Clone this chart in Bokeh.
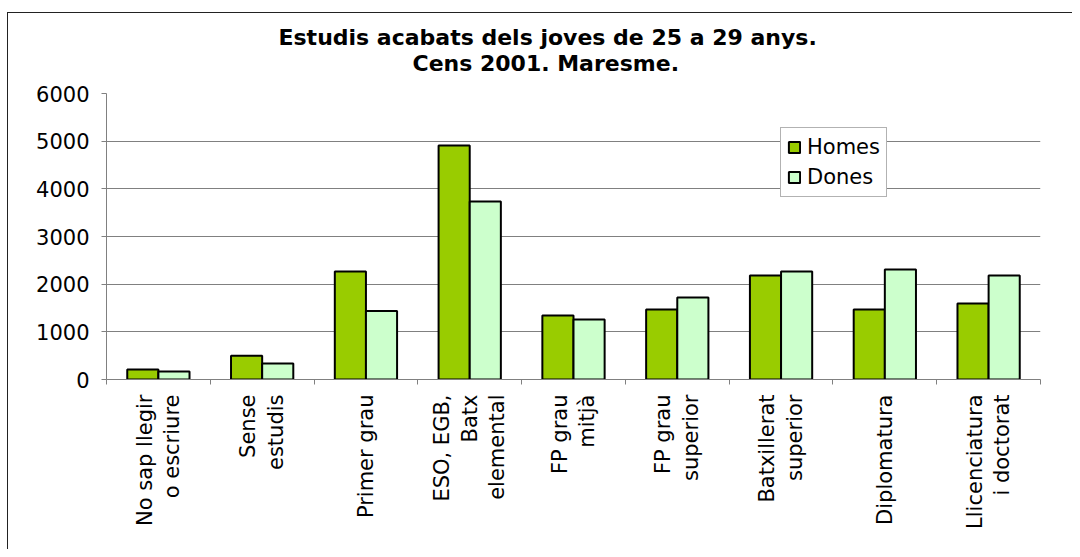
import numpy as np
from bokeh.plotting import figure
from bokeh.models import (FixedTicker, Legend, LegendItem, Title, Range1d)
from bokeh.embed import file_html
from bokeh.resources import INLINE

categories = ["No sap llegir\no escriure", "Sense\nestudis", "Primer grau",
              "ESO, EGB,\nBatx\nelemental", "FP grau\nmitjà", "FP grau\nsuperior",
              "Batxillerat\nsuperior", "Diplomatura", "Llicenciatura\ni doctorat"]
homes = [210, 500, 2265, 4910, 1345, 1470, 2180, 1470, 1595]
dones = [170, 335, 1435, 3735, 1260, 1720, 2265, 2310, 2180]
y_ticks = [0, 1000, 2000, 3000, 4000, 5000, 6000]
title1 = "Estudis acabats dels joves de 25 a 29 anys."
title2 = "Cens 2001. Maresme."

FONT = "DejaVu Sans"
FS = "21px"
n = len(categories)
centers = np.arange(n) + 0.5
bw = 0.30

p = figure(output_backend="svg", toolbar_location=None,
           frame_width=934, frame_height=286,
           x_range=Range1d(0, n), y_range=Range1d(0, 6000),
           min_border_left=98, min_border_right=32, min_border_top=80, min_border_bottom=170)
p.styles = {"border-left": "1px solid #222", "border-top": "1px solid #222",
            "margin-top": "12px", "margin-left": "7px"}
p.outline_line_color = None
p.background_fill_color = "white"
p.border_fill_color = "white"

r1 = p.vbar(x=centers - bw / 2, top=homes, width=bw, fill_color="#99CC00",
            line_color="black", line_width=2)
r2 = p.vbar(x=centers + bw / 2, top=dones, width=bw, fill_color="#CCFFCC",
            line_color="black", line_width=2)

# titles: first added sits nearest the frame
t2 = Title(text=title2, align="left", offset=306, text_font=FONT, text_font_size="22px",
           text_font_style="bold", text_color="black", standoff=36)
t1 = Title(text=title1, align="left", offset=172, text_font=FONT, text_font_size="22px",
           text_font_style="bold", text_color="black", standoff=-38)
p.add_layout(t2, "above")
p.add_layout(t1, "above")

# y axis
p.yaxis.ticker = FixedTicker(ticks=y_ticks)
p.yaxis.axis_line_color = "#808080"
p.yaxis.major_tick_line_color = "#808080"
p.yaxis.major_tick_out = 5
p.yaxis.major_tick_in = 0
p.yaxis.minor_tick_line_color = None
p.yaxis.major_label_text_font = FONT
p.yaxis.major_label_text_font_size = FS
p.yaxis.major_label_text_color = "black"
p.yaxis.major_label_standoff = 12

# x axis
p.xaxis.ticker = FixedTicker(ticks=list(centers), minor_ticks=list(range(n + 1)))
p.xaxis.major_label_overrides = {float(c): lab for c, lab in zip(centers, categories)}
p.xaxis.major_label_orientation = np.pi / 2
p.xaxis.major_tick_line_color = None
p.xaxis.major_tick_out = 0
p.xaxis.major_tick_in = 0
p.xaxis.minor_tick_line_color = "#808080"
p.xaxis.minor_tick_out = 5
p.xaxis.minor_tick_in = 0
p.xaxis.axis_line_color = "#808080"
p.xaxis.major_label_text_font = FONT
p.xaxis.major_label_text_font_size = FS
p.xaxis.major_label_text_color = "black"
p.xaxis.major_label_text_align = "center"
p.xaxis.major_label_text_line_height = 1.15
p.xaxis.major_label_standoff = 10

# grid
p.xgrid.grid_line_color = None
p.ygrid.ticker = FixedTicker(ticks=y_ticks)
p.ygrid.grid_line_color = "#808080"
p.ygrid.grid_line_width = 1

legend = Legend(items=[LegendItem(label="Homes", renderers=[r1]),
                       LegendItem(label="Dones", renderers=[r2])],
                location=(674, 182))
legend.label_text_font = FONT
legend.label_text_font_size = FS
legend.label_text_color = "black"
legend.glyph_width = 14
legend.glyph_height = 14
legend.label_height = 26
legend.label_standoff = 6
legend.spacing = 4
legend.padding = 6
legend.margin = 0
legend.border_line_color = "#666666"
legend.border_line_width = 1
legend.background_fill_color = "white"
legend.background_fill_alpha = 1
p.add_layout(legend, "center")

open("out.html", "w").write(file_html(p, INLINE))
